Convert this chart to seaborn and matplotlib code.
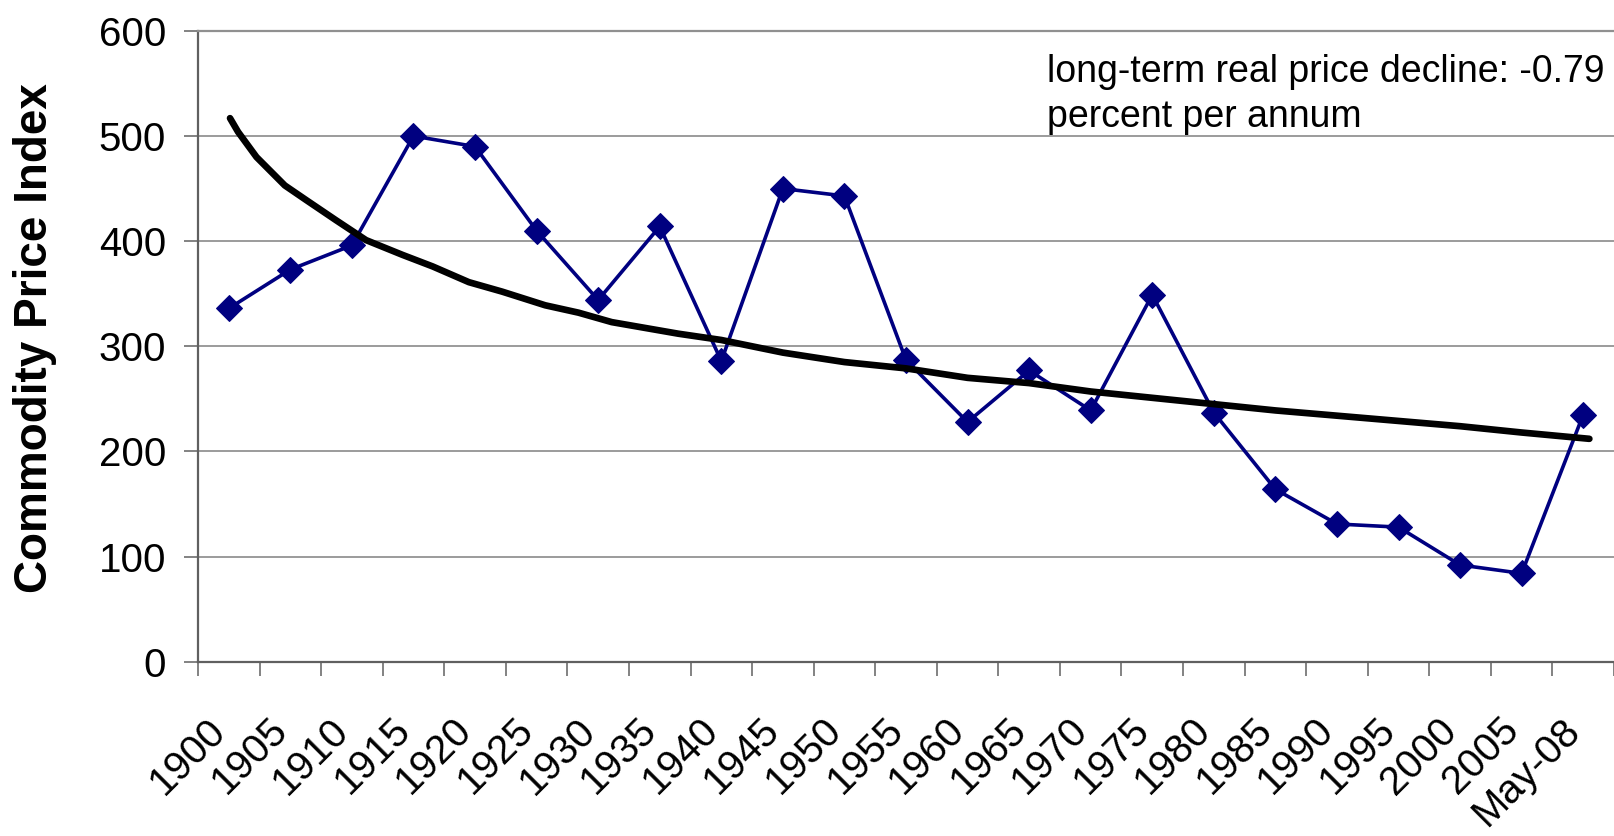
import matplotlib
matplotlib.use("Agg")
import matplotlib.pyplot as plt
import matplotlib.transforms as mtransforms
from matplotlib.ticker import FixedLocator, MultipleLocator
import seaborn as sns

# categories on the x axis
years = ["1900", "1905", "1910", "1915", "1920", "1925", "1930", "1935",
         "1940", "1945", "1950", "1955", "1960", "1965", "1970", "1975",
         "1980", "1985", "1990", "1995", "2000", "2005", "May-08"]
# commodity price index
price_index = [336, 373, 396, 500, 490, 410, 344, 414, 286, 450, 443, 287,
               228, 277, 239, 349, 237, 164, 131, 128, 92, 84, 235]
# long-term trend line (category position, value)
trend_pos = [0.02, 0.15, 0.45, 0.91, 1.26, 1.74, 2.23, 2.82, 3.31, 3.90,
             4.44, 5.14, 5.68, 6.22, 7.30, 8, 9, 10, 11, 12, 13, 14, 15,
             16, 17, 18, 19, 20, 21, 22.1]
trend_val = [517, 504, 480, 453, 439, 420, 401, 387, 376, 361,
             352, 339, 332, 323, 312, 306, 294, 285, 279, 270, 265, 257, 251,
             245, 239, 234, 229, 224, 218, 212]

note = "long-term real price decline: -0.79\npercent per annum"

sns.set_style("white")
plt.rcParams["font.family"] = ["Liberation Sans", "DejaVu Sans"]
plt.rcParams["text.color"] = "black"
plt.rcParams["xtick.color"] = "black"
plt.rcParams["ytick.color"] = "black"
plt.rcParams["axes.labelcolor"] = "black"

fig = plt.figure(figsize=(16.14, 8.36), dpi=100)
ax = fig.add_axes([198 / 1614, 1 - 661.7 / 836, 1 - 198 / 1614, 630.8 / 836])

pos = list(range(len(years)))
sns.lineplot(x=pos, y=price_index, ax=ax, color="#000080", linewidth=2.6,
             marker="D", markersize=13, markeredgecolor="#000080",
             markerfacecolor="#000080", zorder=3)
sns.lineplot(x=trend_pos, y=trend_val, ax=ax, color="black", linewidth=4.8,
             zorder=4, solid_capstyle="round")

ax.set_xlim(-0.5, 22.5)
ax.set_ylim(0, 600)

ax.yaxis.set_major_locator(MultipleLocator(100))
ax.grid(axis="y", color="#808080", linewidth=1.1)
ax.grid(axis="x", visible=False)
ax.set_axisbelow(True)

ax.xaxis.set_major_locator(FixedLocator(pos))
ax.set_xticklabels(years, rotation=45, ha="right", va="center",
                   rotation_mode="anchor")
ax.xaxis.set_minor_locator(FixedLocator([p - 0.5 for p in pos] + [22.5]))
ax.tick_params(axis="x", which="major", length=0, pad=45, labelsize=29,
               colors="black")
ax.tick_params(axis="x", which="minor", length=10, width=1.1,
               color="#606060", direction="out", bottom=True)
ax.tick_params(axis="y", which="major", length=10, width=1.1,
               color="#606060", labelcolor="black", direction="out",
               left=True, pad=13, labelsize=29)

offset = mtransforms.ScaledTranslation(-9 / 100, 0, fig.dpi_scale_trans)
for lbl in ax.xaxis.get_majorticklabels():
    lbl.set_transform(lbl.get_transform() + offset)

for side in ["left", "bottom"]:
    ax.spines[side].set_color("#606060")
    ax.spines[side].set_linewidth(1.6)
ax.spines["top"].set_color("#909090")
ax.spines["top"].set_linewidth(1.6)
ax.spines["right"].set_visible(False)

ax.set_xlabel("")
ax.set_ylabel("Commodity Price Index", fontsize=33, fontweight="bold",
              va="center", color="black")
ax.yaxis.set_label_coords(-163 / 1416, 0.513)

fig.text(1047 / 1614, 1 - 54 / 836, note, fontsize=27, va="top",
         ha="left", linespacing=1.32, color="black")

fig.savefig("out.png", dpi=100)
